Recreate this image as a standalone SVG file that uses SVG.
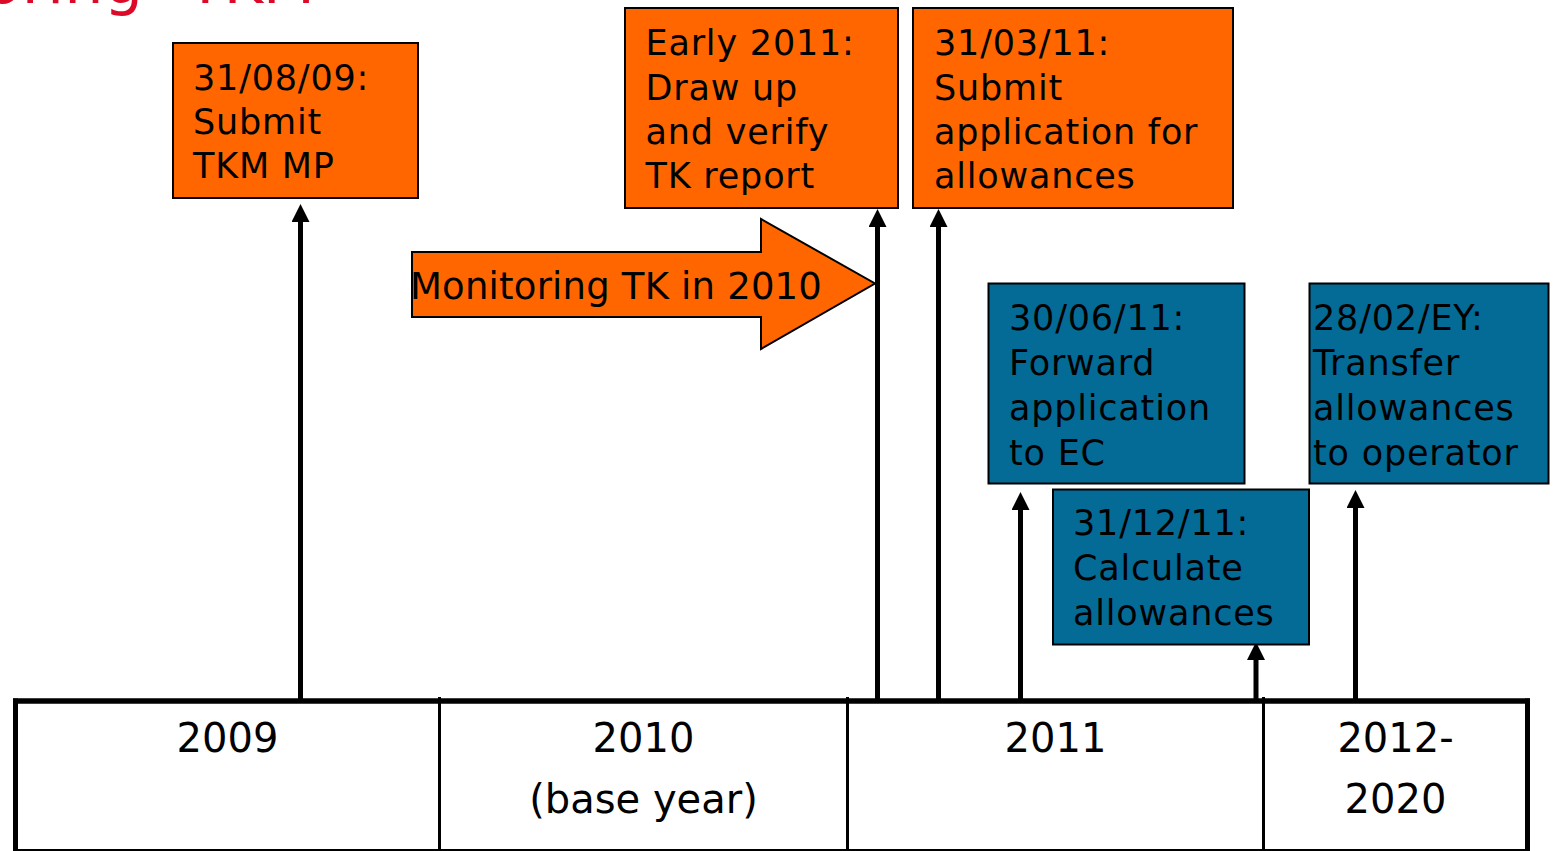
<svg xmlns="http://www.w3.org/2000/svg" width="1554" height="851" viewBox="0 0 1554 851">
  <style>
    .t { font-family: "DejaVu Sans", Verdana, sans-serif; fill: #000; }
    .box { font-size: 35px; letter-spacing: 0.8px; }
    .year { font-size: 40px; text-anchor: middle; }
    .orange { fill: #FF6600; stroke: #000; stroke-width: 2; }
    .blue { fill: #036B96; stroke: #000; stroke-width: 2; }
    .conn { stroke: #000; stroke-width: 5; fill: none; marker-end: url(#ah); }
    .tl { stroke: #000; fill: none; }
  </style>
  <defs>
    <marker id="ah" viewBox="0 0 18 18" refX="0" refY="9" markerWidth="18" markerHeight="18" markerUnits="userSpaceOnUse" orient="auto">
      <path d="M0,0 L18,9 L0,18 z" fill="#000"/>
    </marker>
  </defs>
  <rect x="0" y="0" width="1554" height="851" fill="#fff"/>

  <g id="title">
    <text class="t" x="143" y="3" font-size="62" text-anchor="end" style="fill:#DC0A28">Monitoring</text>
    <text class="t" x="187" y="3" font-size="60" style="fill:#DC0A28">TKM</text>
  </g>

  <g id="timeline">
    <line class="tl" x1="13" y1="701" x2="1530" y2="701" stroke-width="5.5"/>
    <line class="tl" x1="13" y1="850" x2="1530" y2="850" stroke-width="2"/>
    <line class="tl" x1="15.5" y1="698.5" x2="15.5" y2="851" stroke-width="5"/>
    <line class="tl" x1="1527.5" y1="698.5" x2="1527.5" y2="851" stroke-width="5"/>
    <line class="tl" x1="439.5" y1="697" x2="439.5" y2="851" stroke-width="3"/>
    <line class="tl" x1="847.5" y1="697" x2="847.5" y2="851" stroke-width="3"/>
    <line class="tl" x1="1263.5" y1="697" x2="1263.5" y2="851" stroke-width="3"/>
    <text class="t year" x="227.5" y="752">2009</text>
    <text class="t year" x="643.5" y="752">2010</text>
    <text class="t year" x="643.5" y="813">(base year)</text>
    <text class="t year" x="1055.5" y="752">2011</text>
    <text class="t year" x="1395.5" y="752">2012-</text>
    <text class="t year" x="1395.5" y="813">2020</text>
  </g>

  <g id="connectors">
    <line class="conn" x1="300.5" y1="699" x2="300.5" y2="222"/>
    <line class="conn" x1="877.5" y1="699" x2="877.5" y2="227"/>
    <line class="conn" x1="938.5" y1="699" x2="938.5" y2="227"/>
    <line class="conn" x1="1020.5" y1="699" x2="1020.5" y2="510"/>
    <line class="conn" x1="1256" y1="699" x2="1256" y2="660"/>
    <line class="conn" x1="1355.5" y1="699" x2="1355.5" y2="508"/>
  </g>

  <g id="monitoring-2010">
    <polygon class="orange" stroke-width="1.5" points="412,252 761,252 761,219 875,283.5 761,349 761,317 412,317"/>
    <text class="t" x="410" y="299" font-size="37" letter-spacing="0.2">Monitoring TK in 2010</text>
  </g>

  <g id="n-310809">
    <rect class="orange" x="173" y="43" width="245" height="155"/>
    <text class="t box" x="193" y="90">31/08/09:</text>
    <text class="t box" x="193" y="134">Submit</text>
    <text class="t box" x="193" y="178">TKM MP</text>
  </g>

  <g id="n-early2011">
    <rect class="orange" x="625" y="8" width="273" height="200"/>
    <text class="t box" x="645.5" y="55">Early 2011:</text>
    <text class="t box" x="645.5" y="100">Draw up</text>
    <text class="t box" x="645.5" y="144">and verify</text>
    <text class="t box" x="645.5" y="188">TK report</text>
  </g>

  <g id="n-310311">
    <rect class="orange" x="913" y="8" width="320" height="200"/>
    <text class="t box" x="934" y="55">31/03/11:</text>
    <text class="t box" x="934" y="100">Submit</text>
    <text class="t box" x="934" y="144">application for</text>
    <text class="t box" x="934" y="188">allowances</text>
  </g>

  <g id="n-300611">
    <rect class="blue" x="988.5" y="283.5" width="256" height="200"/>
    <text class="t box" x="1009" y="330">30/06/11:</text>
    <text class="t box" x="1009" y="375">Forward</text>
    <text class="t box" x="1009" y="420">application</text>
    <text class="t box" x="1009" y="465">to EC</text>
  </g>

  <g id="n-311211">
    <rect class="blue" x="1053" y="489.5" width="256" height="155"/>
    <text class="t box" x="1073" y="535">31/12/11:</text>
    <text class="t box" x="1073" y="580">Calculate</text>
    <text class="t box" x="1073" y="625">allowances</text>
  </g>

  <g id="n-2802ey">
    <rect class="blue" x="1309.5" y="283.5" width="239" height="200"/>
    <text class="t box" x="1313" y="330">28/02/EY:</text>
    <text class="t box" x="1313" y="375">Transfer</text>
    <text class="t box" x="1313" y="420">allowances</text>
    <text class="t box" x="1313" y="465">to operator</text>
  </g>
</svg>
